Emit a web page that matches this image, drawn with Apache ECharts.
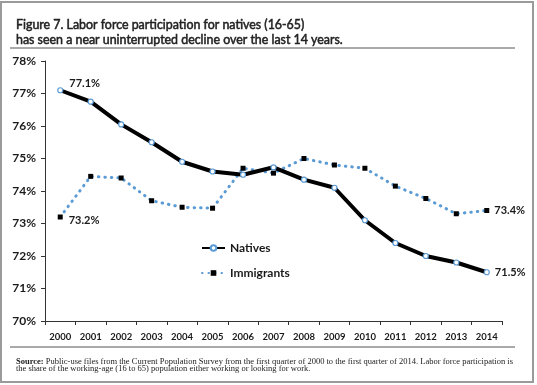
<!DOCTYPE html>
<html>
<head>
<meta charset="utf-8">
<script src="https://cdn.jsdelivr.net/npm/echarts@6/dist/echarts.min.js"></script>
<style>
html,body{margin:0;padding:0;background:#fff;}
#c{width:537px;height:385px;}
</style>
</head>
<body>
<div id="c"></div>
<script>
var years = ['2000','2001','2002','2003','2004','2005','2006','2007','2008','2009','2010','2011','2012','2013','2014'];
var natives = [77.1, 76.75, 76.05, 75.5, 74.9, 74.6, 74.5, 74.73, 74.35, 74.1, 73.1, 72.4, 72.0, 71.8, 71.5];
var immigrants = [73.2, 74.45, 74.4, 73.7, 73.5, 73.47, 74.7, 74.55, 75.0, 74.8, 74.7, 74.15, 73.77, 73.3, 73.4];
var yTicks = [70, 71, 72, 73, 74, 75, 76, 77, 78];
var labelledNatives = {0: '77.1%', 14: '71.5%'};
var labelledImmigrants = {0: '73.2%', 14: '73.4%'};

var font = 'Lato';
var chart = echarts.init(document.getElementById('c'), null, {renderer: 'canvas'});

function withLabels(values, labels, offsets) {
  return values.map(function (v, i) {
    if (labels[i] !== undefined) {
      return {value: v, label: {show: true, formatter: labels[i], position: 'right', offset: offsets[i],
        fontFamily: font, fontSize: 11, color: '#1a1a1a', fontWeight: 'bold'}};
    }
    return v;
  });
}

chart.setOption({
  animation: false,
  title: [{
    text: 'Figure 7. Labor force participation for natives (16-65)\nhas seen a near uninterrupted decline over the last 14 years.',
    left: 11, top: 12,
    textStyle: {fontFamily: font, fontSize: 12.4, fontWeight: 'normal', color: '#222', lineHeight: 15.5,
      textBorderColor: '#222', textBorderWidth: 0.5}
  }, {
    text: '{b|Source:} Public-use files from the Current Population Survey from the first quarter of 2000 to the first quarter of 2014. Labor force participation is\nthe share of the working-age (16 to 65) population either working or looking for work.',
    left: 11, top: 353,
    textStyle: {fontFamily: 'Liberation Serif', fontSize: 8.5, fontWeight: 'normal', color: '#222', lineHeight: 7.5,
      rich: {b: {fontFamily: 'Liberation Serif', fontSize: 8.5, fontWeight: 'bold', color: '#222', lineHeight: 7.5}}}
  }],
  graphic: [
    {type: 'rect', shape: {x: 1, y: 2, width: 532, height: 380}, style: {fill: 'none', stroke: '#9a9a9a', lineWidth: 2}, silent: true},
    {type: 'line', shape: {x1: 10, y1: 48, x2: 515, y2: 48}, style: {stroke: '#555', lineWidth: 1}, silent: true},
    {type: 'line', shape: {x1: 10, y1: 347, x2: 515, y2: 347}, style: {stroke: '#555', lineWidth: 1}, silent: true}
  ],
  legend: {
    orient: 'vertical', left: 196, top: 237, itemWidth: 23, itemHeight: 7, itemGap: 13,
    textStyle: {fontFamily: font, fontSize: 12, fontWeight: 'bold', color: '#1a1a1a'},
    data: ['Natives', 'Immigrants']
  },
  grid: {left: 45, right: 35, top: 61, bottom: 64, containLabel: false},
  xAxis: {
    type: 'category', data: years, boundaryGap: true,
    axisLine: {lineStyle: {color: '#333', width: 1}},
    axisTick: {show: true, length: 4, lineStyle: {color: '#333'}},
    axisLabel: {fontFamily: font, fontSize: 9.5, fontWeight: 'bold', color: '#1a1a1a', margin: 11, interval: 0}
  },
  yAxis: {
    type: 'value', min: yTicks[0], max: yTicks[yTicks.length - 1], interval: 1,
    axisLine: {show: true, lineStyle: {color: '#333', width: 1}},
    axisTick: {show: true, length: 4, lineStyle: {color: '#333'}},
    splitLine: {show: false},
    axisLabel: {fontFamily: font, fontSize: 12, fontWeight: 'bold', color: '#1a1a1a', margin: 9, formatter: '{value}%'}
  },
  series: [{
    name: 'Natives', type: 'line',
    data: withLabels(natives, labelledNatives, {0: [1, -7], 14: [0, 0]}),
    symbol: 'circle', symbolSize: 5,
    itemStyle: {color: '#ffffff', borderColor: '#5b9bd5', borderWidth: 1.2},
    lineStyle: {color: '#000', width: 4},
    z: 3
  }, {
    name: 'Immigrants', type: 'line',
    data: withLabels(immigrants, labelledImmigrants, {0: [1, 3], 14: [0, 0]}),
    symbol: 'rect', symbolSize: 5,
    itemStyle: {color: '#000'},
    lineStyle: {color: '#5b9bd5', width: 3, type: [0.5, 6], cap: 'round'},
    z: 2
  }]
});
</script>
</body>
</html>
